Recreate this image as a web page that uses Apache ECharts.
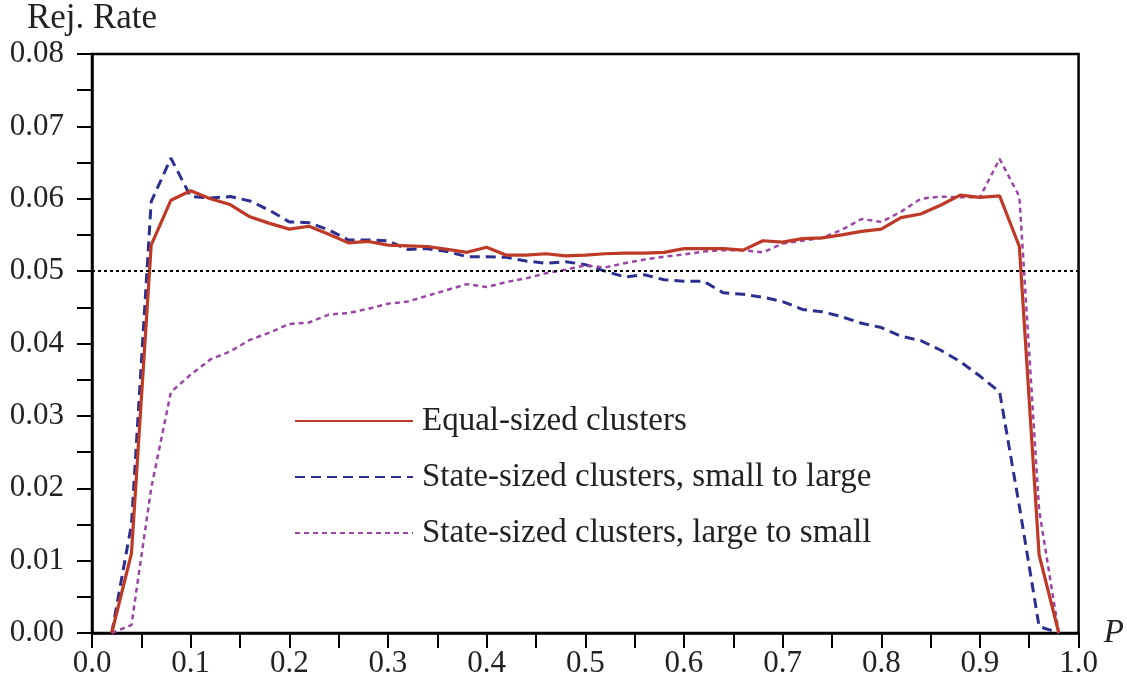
<!DOCTYPE html>
<html>
<head>
<meta charset="utf-8">
<script src="https://cdn.jsdelivr.net/npm/echarts@6/dist/echarts.min.js"></script>
<style>
  html, body { margin: 0; padding: 0; background: #fff; }
  #chart-container { width: 1127px; height: 689px; }
</style>
</head>
<body>
<div id="chart-container"></div>
<script>
var dom = document.getElementById("chart-container");
var myChart = echarts.init(dom, null, { renderer: "canvas" });

// P values (0.02 .. 0.98 step 0.02)
const pValues = [
  0.02, 0.04, 0.06, 0.08, 0.10, 0.12, 0.14, 0.16, 0.18, 0.20,
  0.22, 0.24, 0.26, 0.28, 0.30, 0.32, 0.34, 0.36, 0.38, 0.40,
  0.42, 0.44, 0.46, 0.48, 0.50, 0.52, 0.54, 0.56, 0.58, 0.60,
  0.62, 0.64, 0.66, 0.68, 0.70, 0.72, 0.74, 0.76, 0.78, 0.80,
  0.82, 0.84, 0.86, 0.88, 0.90, 0.92, 0.94, 0.96, 0.98
];

const equalSized = [
  0.0, 0.011, 0.0536, 0.0598, 0.0611, 0.0600, 0.0592, 0.0575, 0.0566, 0.0558,
  0.0562, 0.0551, 0.0539, 0.0541, 0.0536, 0.0535, 0.0534, 0.0530, 0.0526, 0.0533,
  0.0522, 0.0522, 0.0524, 0.0521, 0.0522, 0.0524, 0.0525, 0.0525, 0.0526, 0.0531,
  0.0531, 0.0531, 0.0529, 0.0542, 0.0540, 0.0545, 0.0546, 0.0550, 0.0555, 0.0558,
  0.0574, 0.0579, 0.0591, 0.0605, 0.0602, 0.0604, 0.0534, 0.0108, 0.0
];

const smallToLarge = [
  0.0, 0.015, 0.0596, 0.0656, 0.0603, 0.0601, 0.0603, 0.0597, 0.0584, 0.0568,
  0.0567, 0.0557, 0.0543, 0.0543, 0.0542, 0.0530, 0.0531, 0.0527, 0.0520, 0.0520,
  0.0519, 0.0514, 0.0511, 0.0513, 0.0509, 0.0500, 0.0492, 0.0495, 0.0488, 0.0486,
  0.0486, 0.0470, 0.0468, 0.0464, 0.0458, 0.0447, 0.0444, 0.0437, 0.0428, 0.0422,
  0.0410, 0.0404, 0.0391, 0.0375, 0.0355, 0.0333, 0.0175, 0.0009, 0.0
];

const largeToSmall = [
  0.0, 0.0011, 0.0200, 0.0333, 0.0357, 0.0378, 0.0389, 0.0405, 0.0415, 0.0427,
  0.0429, 0.0440, 0.0442, 0.0448, 0.0455, 0.0458, 0.0466, 0.0474, 0.0482, 0.0478,
  0.0485, 0.0490, 0.0497, 0.0502, 0.0508, 0.0505, 0.0511, 0.0516, 0.0520, 0.0523,
  0.0527, 0.0529, 0.0529, 0.0526, 0.0538, 0.0542, 0.0546, 0.0557, 0.0572, 0.0568,
  0.0582, 0.0600, 0.0603, 0.0602, 0.0602, 0.0655, 0.0603, 0.0170, 0.0
];

const seriesNames = [
  "Equal-sized clusters",
  "State-sized clusters, small to large",
  "State-sized clusters, large to small"
];

const nominalLevel = 0.05;

function pairs(ys) {
  return pValues.map(function (p, i) { return [p, ys[i]]; });
}

var font = "Liberation Serif";

var option = {
  animation: false,
  backgroundColor: "#fff",
  grid: {
    left: 92, right: 41, top: 54, bottom: 56,
    show: true, borderColor: "#000", borderWidth: 2.5
  },
  legend: {
    orient: "vertical",
    left: 289,
    top: 398,
    itemWidth: 118,
    itemHeight: 20,
    itemGap: 20,
    itemStyle: { opacity: 0 },
    textStyle: { fontFamily: font, fontSize: 33, color: "#222", lineHeight: 36, padding: [0, 0, 0, 4] },
    data: seriesNames
  },
  xAxis: {
    type: "value",
    min: 0, max: 1, interval: 0.05,
    name: "P",
    nameLocation: "end",
    nameGap: 10,
    nameTextStyle: { fontFamily: font, fontStyle: "italic", fontSize: 33, color: "#222", verticalAlign: "middle" },
    axisLine: { lineStyle: { color: "#000", width: 2.5 } },
    axisTick: { length: 15, lineStyle: { color: "#000", width: 2 } },
    splitLine: { show: false },
    axisLabel: {
      margin: 15,
      fontFamily: font, fontSize: 31, color: "#222",
      formatter: function (v) {
        return Math.round(v * 100) % 10 === 0 ? v.toFixed(1) : "";
      }
    }
  },
  yAxis: {
    type: "value",
    min: 0, max: 0.08, interval: 0.005,
    name: "Rej. Rate",
    nameLocation: "end",
    nameGap: 18,
    nameTextStyle: { fontFamily: font, fontSize: 35, color: "#222" },
    axisLine: { show: true, lineStyle: { color: "#000", width: 2.5 } },
    axisTick: { show: true, length: 15, lineStyle: { color: "#000", width: 2 } },
    splitLine: { show: false },
    axisLabel: {
      margin: 28,
      fontFamily: font, fontSize: 31, color: "#222",
      formatter: function (v) {
        return Math.round(v * 1000) % 10 === 0 ? v.toFixed(2) : "";
      }
    }
  },
  series: [
    {
      name: seriesNames[0],
      type: "line",
      data: pairs(equalSized),
      symbol: "none",
      z: 4,
      lineStyle: { color: "#BE3A26", width: 3.2 },
      itemStyle: { color: "#BE3A26" },
      markLine: {
        silent: true,
        symbol: "none",
        label: { show: false },
        lineStyle: { color: "#000", width: 2, type: [3, 3] },
        data: [{ yAxis: nominalLevel }]
      }
    },
    {
      name: seriesNames[1],
      type: "line",
      data: pairs(smallToLarge),
      symbol: "none",
      z: 3,
      lineStyle: { color: "#2B2F8F", width: 3, type: [10, 6] },
      itemStyle: { color: "#2B2F8F" }
    },
    {
      name: seriesNames[2],
      type: "line",
      data: pairs(largeToSmall),
      symbol: "none",
      z: 3,
      lineStyle: { color: "#9B45A6", width: 2.5, type: [5, 4] },
      itemStyle: { color: "#9B45A6" }
    }
  ]
};

if (option && typeof option === "object") {
  myChart.setOption(option);
}

window.addEventListener("resize", myChart.resize);
</script>
</body>
</html>
